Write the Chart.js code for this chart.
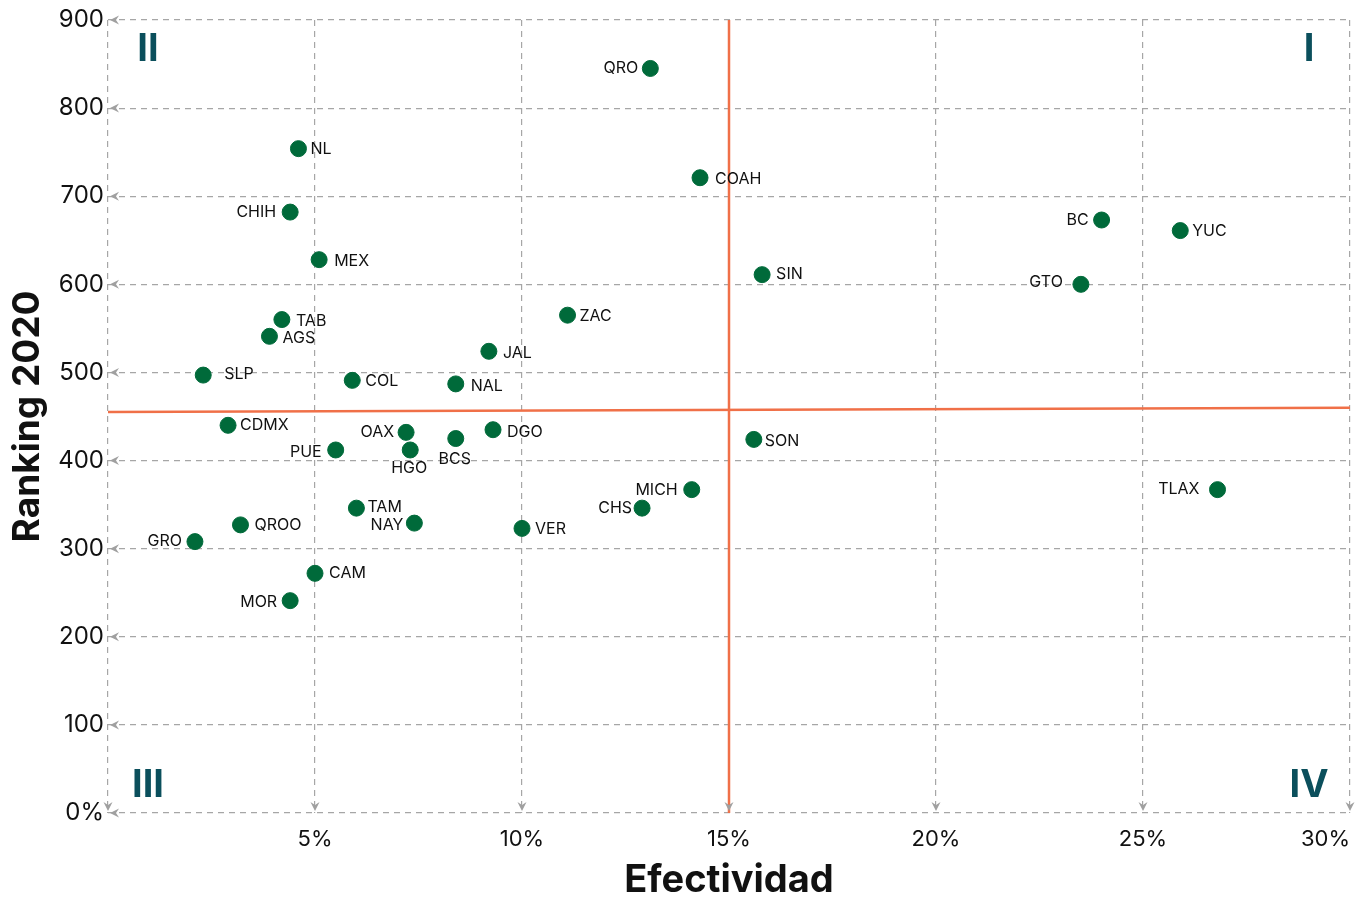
<!DOCTYPE html>
<html>
<head>
<meta charset="utf-8">
<script src="https://cdn.jsdelivr.net/npm/chart.js@4.4.1/dist/chart.umd.min.js"></script>
<style>
  html, body { margin: 0; padding: 0; background: #fff; }
  #wrap { width: 1369px; height: 901px; }
</style>
</head>
<body>
<div id="wrap"><canvas id="scatterChart"></canvas></div>
<script>
// state abbreviations, effectiveness (%) and 2020 ranking
const states = ['QRO', 'NL', 'COAH', 'CHIH', 'BC', 'YUC', 'MEX', 'SIN', 'GTO', 'ZAC', 'TAB', 'AGS',
    'JAL', 'SLP', 'COL', 'NAL', 'CDMX', 'DGO', 'OAX', 'BCS', 'SON', 'PUE', 'HGO', 'MICH', 'TLAX',
    'TAM', 'CHS', 'NAY', 'QROO', 'VER', 'GRO', 'CAM', 'MOR'];
const efectividad = [13.1, 4.6, 14.3, 4.4, 24.0, 25.9, 5.1, 15.8, 23.5, 11.1, 4.2, 3.9,
    9.2, 2.3, 5.9, 8.4, 2.9, 9.3, 7.2, 8.4, 15.6, 5.5, 7.3, 14.1, 26.8,
    6.0, 12.9, 7.4, 3.2, 10.0, 2.1, 5.0, 4.4];
const ranking = [845, 754, 721, 682, 673, 661, 628, 611, 600, 565, 560, 541,
    524, 497, 491, 487, 440, 435, 432, 425, 424, 412, 412, 367, 367,
    346, 346, 329, 327, 323, 308, 272, 241];

// quadrant dividers
const hLine = [{ x: 0, y: 455 }, { x: 30, y: 460 }];
const vLine = [{ x: 15, y: 0 }, { x: 15, y: 900 }];

const xTicks = [0, 5, 10, 15, 20, 25, 30];
const yTicks = [0, 100, 200, 300, 400, 500, 600, 700, 800, 900];

// where each label sits relative to its dot: side + offset
const labelPlace = {
    QRO: ['l', -12, 0], NL: ['r', 12, 1], COAH: ['r', 15, 1], CHIH: ['l', -14, 0],
    BC: ['l', -13, 0], YUC: ['r', 12, 1], MEX: ['r', 15, 2], SIN: ['r', 14, 0],
    GTO: ['l', -18, -2], ZAC: ['r', 12, 1], TAB: ['r', 14, 2], AGS: ['r', 13, 2],
    JAL: ['r', 14, 2], SLP: ['r', 21, -1], COL: ['r', 13, 1], NAL: ['r', 15, 2],
    CDMX: ['r', 12, 0], DGO: ['r', 14, 2], OAX: ['l', -12, 0], BCS: ['b', -1, 21],
    SON: ['r', 11, 2], PUE: ['l', -14, 2], HGO: ['b', -1, 18], MICH: ['l', -14, 1],
    TLAX: ['l', -18, 0], TAM: ['r', 11, -1], CHS: ['l', -10, 0], NAY: ['l', -11, 2],
    QROO: ['r', 14, 0], VER: ['r', 13, 1], GRO: ['l', -13, 0], CAM: ['r', 14, 0],
    MOR: ['l', -13, 2]
};

const FONT = 'Inter, "Open Sans", sans-serif';
const GRID = '#a6a6a6';

const points = states.map((s, i) => ({ x: efectividad[i], y: ranking[i], label: s }));

// labels next to dots
const pointLabels = {
    id: 'pointLabels',
    afterDatasetsDraw(chart) {
        const ctx = chart.ctx;
        const meta = chart.getDatasetMeta(2);
        ctx.save();
        ctx.font = '16px ' + FONT;
        ctx.fillStyle = '#111';
        ctx.textBaseline = 'middle';
        meta.data.forEach((el, i) => {
            const name = states[i];
            const p = labelPlace[name] || ['r', 12, 0];
            if (p[0] === 'r') ctx.textAlign = 'left';
            else if (p[0] === 'l') ctx.textAlign = 'right';
            else ctx.textAlign = 'center';
            ctx.fillText(name, el.x + p[1], el.y + p[2]);
        });
        ctx.restore();
    }
};

// gray arrowheads on the grid ends + quadrant numbers
const decorations = {
    id: 'decorations',
    afterDraw(chart) {
        const ctx = chart.ctx;
        const a = chart.chartArea;
        const xs = chart.scales.x, ys = chart.scales.y;
        ctx.save();
        ctx.fillStyle = '#a0a0a0';
        yTicks.forEach(v => {
            const y = ys.getPixelForValue(v);
            ctx.beginPath();
            ctx.moveTo(a.left + 2, y);
            ctx.lineTo(a.left + 11, y - 4.5);
            ctx.lineTo(a.left + 8, y);
            ctx.lineTo(a.left + 11, y + 4.5);
            ctx.closePath();
            ctx.fill();
        });
        xTicks.forEach(v => {
            const x = xs.getPixelForValue(v);
            ctx.beginPath();
            ctx.moveTo(x, a.bottom - 2);
            ctx.lineTo(x - 4.5, a.bottom - 11);
            ctx.lineTo(x, a.bottom - 8);
            ctx.lineTo(x + 4.5, a.bottom - 11);
            ctx.closePath();
            ctx.fill();
        });
        ctx.fillStyle = '#0b4f5c';
        ctx.font = 'bold 38px ' + FONT;
        ctx.textBaseline = 'middle';
        ctx.textAlign = 'center';
        ctx.fillText('II', a.left + 40, a.top + 30);
        ctx.fillText('I', a.right - 41, a.top + 30);
        ctx.fillText('III', a.left + 40, a.bottom - 27);
        ctx.fillText('IV', a.right - 41, a.bottom - 27);
        ctx.restore();
    }
};

const ctx = document.getElementById('scatterChart').getContext('2d');
new Chart(ctx, {
    type: 'scatter',
    data: {
        datasets: [
            {
                type: 'line', data: hLine, borderColor: '#f07048', borderWidth: 2.5,
                pointRadius: 0, fill: false
            },
            {
                type: 'line', data: vLine, borderColor: '#f07048', borderWidth: 2.5,
                pointRadius: 0, fill: false
            },
            {
                data: points, backgroundColor: '#006a3a', borderColor: '#006a3a',
                pointRadius: 8, pointHoverRadius: 8
            }
        ]
    },
    options: {
        responsive: true,
        maintainAspectRatio: false,
        animation: false,
        layout: { padding: { top: 20, right: 19, left: 0, bottom: 0 } },
        plugins: { legend: { display: false }, tooltip: { enabled: false } },
        scales: {
            x: {
                type: 'linear', min: 0, max: 30,
                afterBuildTicks: s => { s.ticks = xTicks.map(v => ({ value: v })); },
                afterFit: s => { s.height = 88; },
                grid: { color: GRID, lineWidth: 1.2, drawTicks: false },
                border: { display: false, dash: [6, 5] },
                ticks: {
                    align: 'inner',
                    padding: 13,
                    color: '#111',
                    font: { family: FONT, size: 22 },
                    callback: v => v === 0 ? '' : v + '%'
                },
                title: {
                    display: true, text: 'Efectividad', color: '#111',
                    font: { family: FONT, size: 38, weight: 'bold', lineHeight: 1.05 },
                    padding: { top: 0, bottom: 0 }
                }
            },
            y: {
                type: 'linear', min: 0, max: 900,
                afterBuildTicks: s => { s.ticks = yTicks.map(v => ({ value: v })); },
                afterFit: s => { s.width = 108; },
                grid: { color: GRID, lineWidth: 1.2, drawTicks: false },
                border: { display: false, dash: [6, 5] },
                ticks: {
                    padding: 4,
                    color: '#111',
                    font: { family: FONT, size: 24 },
                    callback: v => v === 0 ? '0%' : v
                },
                title: {
                    display: true, text: 'Ranking 2020', color: '#111',
                    font: { family: FONT, size: 37, weight: 'bold' },
                    padding: { top: 6, bottom: 0 }
                }
            }
        }
    },
    plugins: [pointLabels, decorations]
});
</script>
</body>
</html>
